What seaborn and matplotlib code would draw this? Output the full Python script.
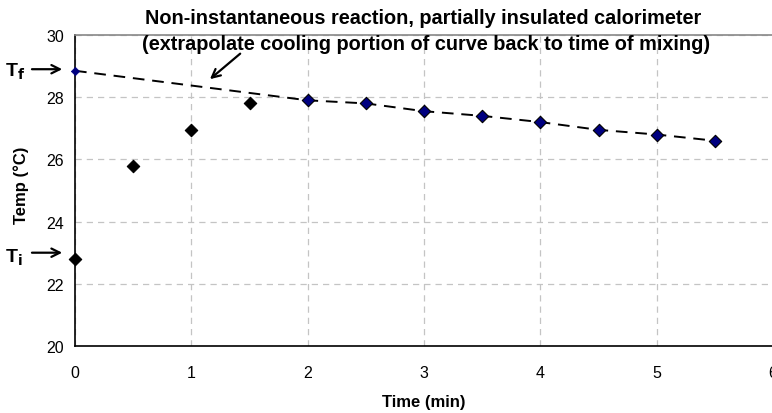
import matplotlib
matplotlib.use('Agg')
import matplotlib.pyplot as plt
import seaborn as sns
import pandas as pd

# Data
heating_time = [0, 0.5, 1, 1.5]
heating_temp = [22.8, 25.8, 26.95, 27.8]
cooling_time = [2, 2.5, 3, 3.5, 4, 4.5, 5, 5.5]
cooling_temp = [27.9, 27.8, 27.55, 27.4, 27.2, 26.95, 26.8, 26.6]
extrap_time = [0]
extrap_temp = [28.85]
x_ticks = [0, 1, 2, 3, 4, 5, 6]
y_ticks = [20, 22, 24, 26, 28, 30]

sns.set_style('white')
plt.rcParams['font.family'] = ['Liberation Sans', 'DejaVu Sans']
plt.rcParams['text.color'] = 'black'
plt.rcParams['axes.labelcolor'] = 'black'

fig = plt.figure(figsize=(7.72, 4.14), dpi=100)
W, H = 772, 414
ax = fig.add_axes([75 / W, 1 - 347 / H, (773 - 75) / W, (347 - 36) / H])

line_df = pd.DataFrame({'time': extrap_time + cooling_time,
                        'temp': extrap_temp + cooling_temp})
sns.lineplot(data=line_df, x='time', y='temp', ax=ax, color='black',
             linewidth=1.4, dashes=False, linestyle=(0, (6, 4)), zorder=3)

sns.scatterplot(x=heating_time, y=heating_temp, ax=ax, marker='D', s=40,
                color='black', edgecolor='black', linewidth=0.8, zorder=4,
                clip_on=False)
sns.scatterplot(x=cooling_time, y=cooling_temp, ax=ax, marker='D', s=40,
                color='#000080', edgecolor='black', linewidth=0.8, zorder=4)
sns.scatterplot(x=extrap_time, y=extrap_temp, ax=ax, marker='D', s=18,
                color='#000080', edgecolor='#000080', linewidth=0.5, zorder=4,
                clip_on=False)

ax.set_xlim(0, 6)
ax.set_ylim(20, 30)
ax.set_xticks(x_ticks)
ax.set_yticks(y_ticks)
ax.tick_params(axis='both', labelsize=11.5, direction='out', length=5,
               width=1, colors='black', pad=3)
ax.tick_params(axis='x', pad=9)
ax.grid(True, color='#c4c4c4', linestyle=(0, (5, 4)), linewidth=0.9)
ax.set_axisbelow(True)

for side in ['left', 'bottom']:
    ax.spines[side].set_color('black')
    ax.spines[side].set_linewidth(1.2)
ax.spines['top'].set_color('#888888')
ax.spines['top'].set_linewidth(1.2)
ax.spines['right'].set_visible(False)

ax.set_xlabel('Time (min)', fontsize=12, fontweight='bold', labelpad=9.5)
ax.set_ylabel('Temp (\u00b0C)', fontsize=12, fontweight='bold')
ax.yaxis.set_label_coords(-0.066, 0.52)

fig.text(423 / W, 1 - 18 / H,
         'Non-instantaneous reaction, partially insulated calorimeter',
         ha='center', va='center', fontsize=14.3, fontweight='bold')
fig.text(426 / W, 1 - 45 / H,
         '(extrapolate cooling portion of curve back to time of mixing)',
         ha='center', va='center', fontsize=14.3, fontweight='bold')

arrow_style = dict(arrowstyle='->', color='black', lw=1.6, mutation_scale=15,
                   shrinkA=0, shrinkB=0)

# arrow from title to extrapolated line
ax.annotate('', xy=(1.16, 28.58), xytext=(1.42, 29.4),
            arrowprops=arrow_style, annotation_clip=False)

# T_f and T_i labels with arrows pointing at the y axis
ax.annotate('', xy=(-0.11, 28.9), xytext=(-0.37, 28.9),
            arrowprops=arrow_style, annotation_clip=False)
ax.annotate('', xy=(-0.11, 23.0), xytext=(-0.37, 23.0),
            arrowprops=arrow_style, annotation_clip=False)
fig.text(5 / W, 1 - 72 / H, r'T$_\mathbf{f}$', fontsize=14, fontweight='bold',
         va='center', ha='left')
fig.text(5 / W, 1 - 258 / H, r'T$_\mathbf{i}$', fontsize=14, fontweight='bold',
         va='center', ha='left')

fig.savefig('out.png', dpi=100)
